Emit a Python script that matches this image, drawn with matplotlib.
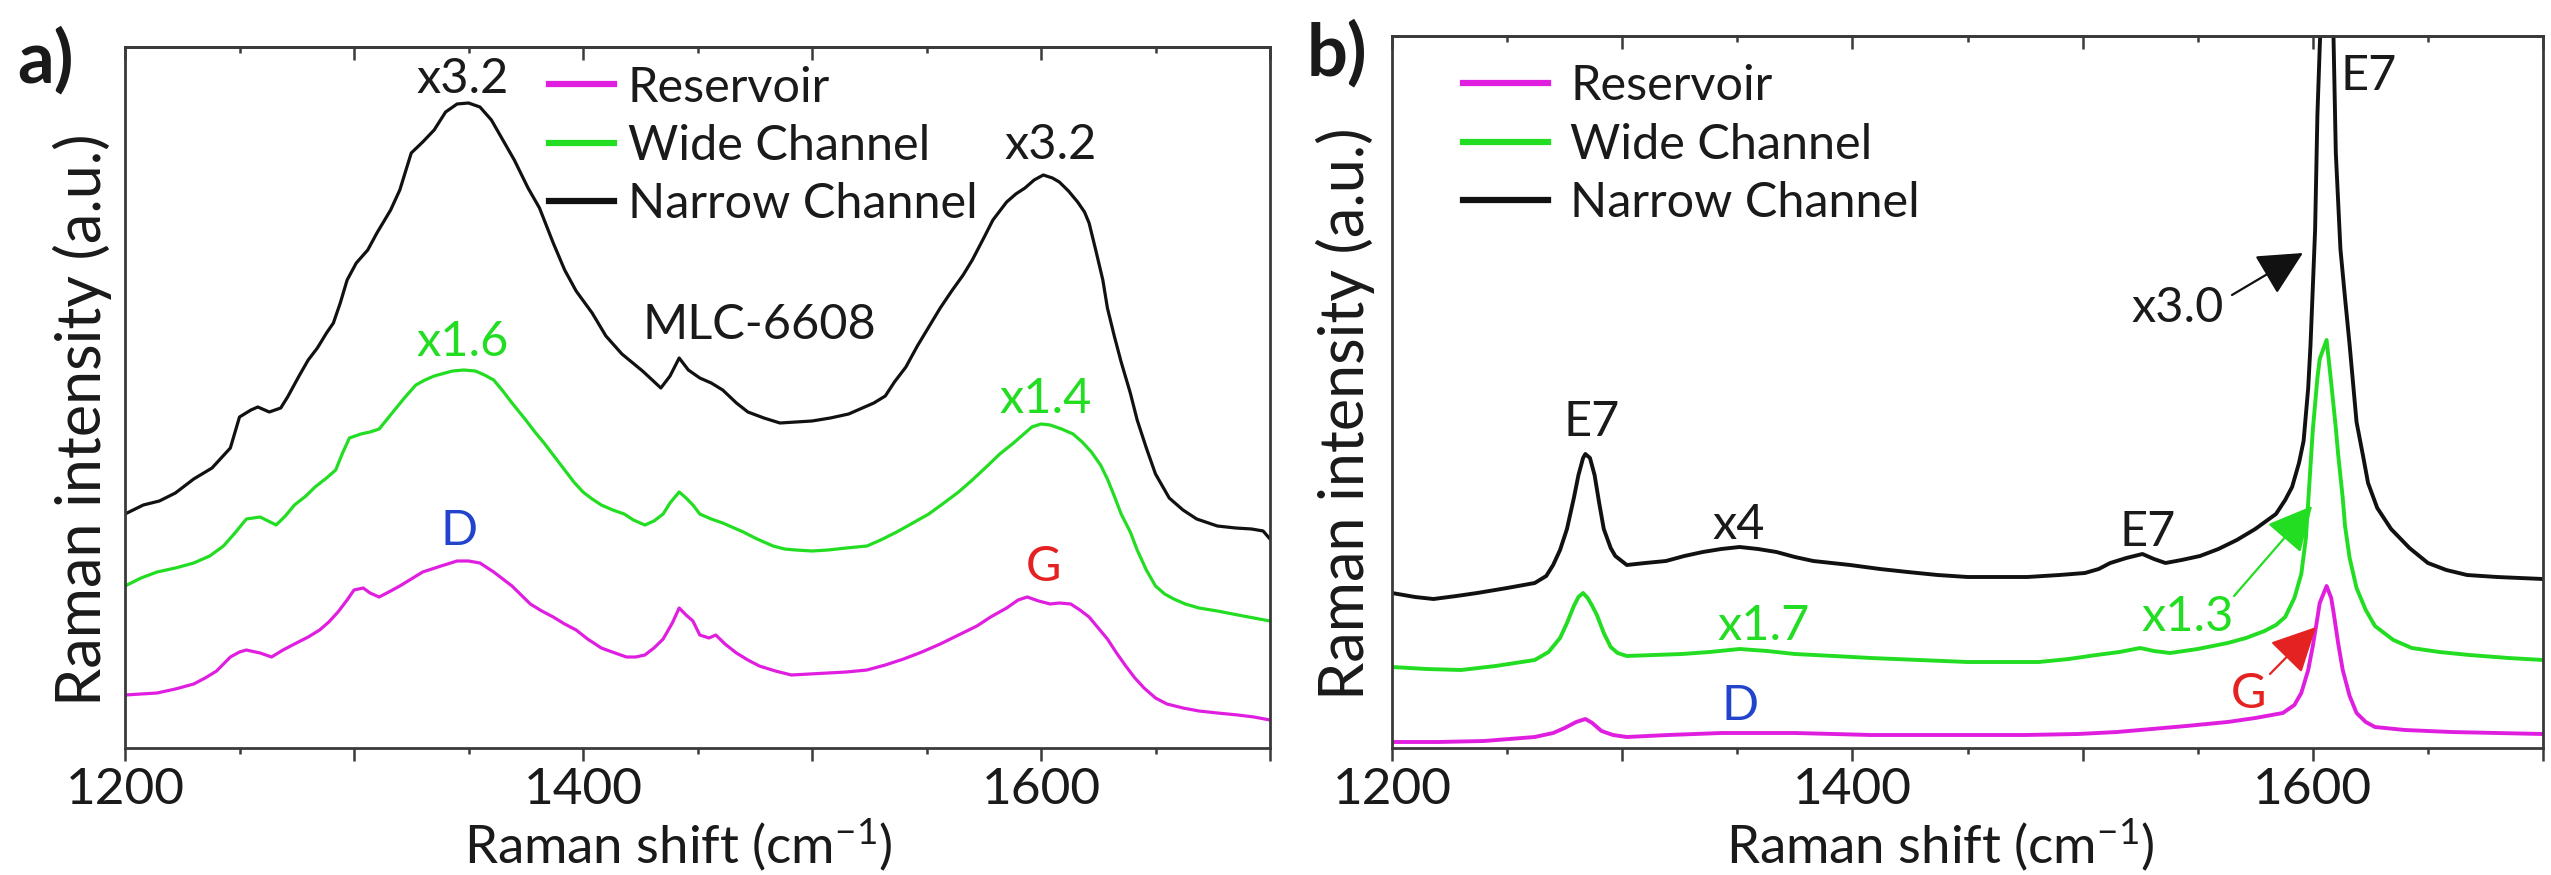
import matplotlib
matplotlib.use("Agg")
import matplotlib.pyplot as plt
from matplotlib.ticker import FixedLocator, FuncFormatter, MultipleLocator

plt.rcParams['font.family'] = ['Lato', 'DejaVu Sans']
plt.rcParams['mathtext.fontset'] = 'custom'
plt.rcParams['mathtext.rm'] = 'Lato'
plt.rcParams['mathtext.default'] = 'regular'

# ---------------- data (Raman shift, intensity in a.u.) ----------------
# Panel a
a_black_x = [1200,1208,1215,1222,1230,1238,1246,1250,1255,1258,1263,1268,1271,1276,1280,1284,1288,1291,1294,1297,
             1301,1306,1310,1316,1320,1325,1330,1335,1340,1345,1350,1355,1360,1365,1370,1376,1381,1387,1392,1397,
             1404,1410,1417,1426,1434,1438,1442,1446,1451,1456,1461,1467,1472,1479,1486,1493,1500,1508,1516,1522,
             1527,1532,1536,1541,1546,1551,1556,1561,1566,1570,1575,1579,1585,1589,1593,1597,1601,1605,1608,1612,
             1616,1619,1621,1624,1627,1629,1632,1635,1639,1642,1646,1650,1656,1662,1668,1677,1685,1692,1697,1700]
a_black_y = [234,243,247,255,269,280,300,331,338,341,336,340,351,372,388,400,415,425,445,468,
             485,498,515,538,558,595,606,618,636,644,645,641,628,608,588,560,540,505,478,457,
             435,412,394,377,360,372,390,378,370,365,358,345,336,330,325,326,327,330,334,340,
             345,352,366,381,402,421,440,457,473,488,510,528,546,554,560,568,573,570,566,557,
             546,536,525,497,468,440,412,386,355,328,300,274,250,238,229,222,220,219,217,209]

a_green_x = [1200,1207,1214,1222,1230,1237,1243,1248,1253,1259,1266,1270,1274,1279,1283,1288,1292,1295,1298,1303,
             1307,1311,1317,1322,1327,1331,1335,1343,1348,1353,1357,1361,1365,1369,1375,1379,1383,1388,1392,1396,
             1400,1404,1408,1413,1418,1422,1427,1431,1435,1438,1442,1445,1448,1451,1456,1461,1466,1470,1476,1483,
             1488,1493,1500,1507,1515,1524,1530,1537,1544,1551,1557,1564,1570,1577,1582,1588,1592,1596,1600,1604,
             1609,1614,1618,1622,1626,1629,1632,1635,1639,1642,1646,1650,1654,1658,1663,1669,1677,1686,1693,1700]
a_green_y = [162,170,176,180,185,192,202,215,229,231,223,232,243,252,261,270,278,295,310,314,
             316,319,336,350,363,368,372,377,378,377,373,368,357,345,328,316,305,290,278,266,
             256,249,243,238,234,228,223,227,234,245,256,250,243,234,229,225,220,216,209,202,
             199,198,197,198,200,202,208,216,225,234,244,256,268,283,294,305,313,321,324,323,
             319,314,306,296,283,269,252,234,216,198,178,162,154,149,144,140,137,133,130,127]

a_mag_x = [1200,1207,1214,1222,1230,1235,1240,1246,1250,1253,1259,1264,1269,1274,1280,1285,1289,1293,1297,1300,
           1304,1307,1311,1316,1320,1325,1330,1338,1345,1350,1355,1361,1365,1369,1373,1377,1382,1387,1392,1397,
           1402,1408,1414,1419,1423,1427,1431,1435,1439,1442,1445,1448,1451,1455,1458,1462,1467,1472,1477,1484,
           1491,1499,1507,1515,1524,1532,1540,1548,1556,1564,1572,1578,1585,1590,1594,1599,1604,1608,1613,1617,
           1621,1625,1629,1633,1637,1641,1645,1650,1655,1662,1669,1677,1686,1693,1700]
a_mag_y = [53,54,55,59,64,70,77,91,96,98,95,91,98,104,111,118,126,136,148,158,
           160,155,151,157,162,169,176,182,187,187,185,176,169,162,153,144,137,131,124,118,
           109,100,95,91,91,93,100,109,125,140,133,127,113,110,113,104,95,88,82,77,
           73,74,75,76,78,83,89,96,104,113,122,131,140,148,151,147,144,145,144,138,
           131,120,109,95,82,70,60,50,44,40,37,35,33,31,28]

# Panel b
b_black_x = [1200,1210,1218,1228,1237,1250,1262,1267,1270,1273,1276,1279,1281,1283,1284,1286,1288,1290,1292,1295,
             1297,1302,1310,1319,1327,1335,1343,1351,1359,1367,1375,1383,1391,1399,1412,1424,1437,1450,1463,1476,
             1490,1501,1507,1512,1519,1526,1531,1536,1543,1551,1559,1567,1575,1581,1584,1588,1591,1594,1596,1598,
             1599,1600,1601,1602,1603,1604,1606,1608,1609,1610,1612,1614,1616,1619,1622,1624,1628,1634,1642,1650,
             1658,1667,1680,1690,1700]
b_black_y = [155,151,149,152,155,160,165,172,183,198,219,250,273,290,294,290,273,245,219,200,
             192,183,185,187,192,196,199,201,199,196,191,187,185,183,179,176,173,171,171,171,
             173,175,179,185,190,194,189,185,188,192,199,208,219,229,234,248,261,285,307,360,
             403,460,518,633,700,760,790,760,710,595,499,450,403,326,290,265,240,219,200,185,
             178,173,171,170,169]

b_green_x = [1200,1215,1230,1245,1262,1268,1273,1276,1279,1281,1283,1285,1287,1289,1292,1295,1298,1302,1314,1326,
             1338,1351,1363,1375,1392,1408,1429,1450,1465,1481,1494,1506,1516,1525,1531,1538,1550,1563,1571,1579,
             1584,1588,1592,1595,1597,1598,1600,1602,1603,1606,1608,1610,1611,1613,1614,1616,1619,1623,1627,1635,
             1643,1655,1668,1685,1700]
b_green_y = [81,79,78,82,88,96,110,125,142,151,155,150,142,133,115,101,95,92,93,94,
             96,99,97,94,92,90,88,86,86,86,89,93,96,100,97,95,99,105,110,117,
             123,131,150,174,210,246,318,370,389,408,365,320,294,250,222,190,160,138,122,108,
             100,96,93,90,88]

b_mag_x = [1200,1220,1240,1262,1270,1275,1280,1284,1287,1291,1296,1302,1320,1343,1360,1375,1392,1408,1430,1450,
           1475,1498,1515,1530,1545,1563,1575,1587,1592,1595,1598,1600,1602,1603,1606,1608,1609,1611,1613,1616,
           1619,1623,1627,1640,1660,1680,1700]
b_mag_y = [6,6,7,11,15,20,26,29,25,17,13,11,13,15,15,15,14,13,13,13,
           13,14,16,19,22,26,30,35,43,55,78,102,130,145,162,150,136,105,78,52,
           35,26,21,18,16,15,14]

series_labels = ['Reservoir', 'Wide Channel', 'Narrow Channel']
major_ticks = [1200, 1300, 1400, 1500, 1600, 1700]
tick_labels = {1200: '1200', 1400: '1400', 1600: '1600'}

MAG = '#e01ee0'
GRN = '#22dd22'
BLK = '#111111'
BLUE = '#2244cc'
RED = '#e52222'
TXT = '#1a1a1a'
SPINE = '#3a3a3a'

FS_TICK = 37
FS_LAB = 38
FS_YLAB = 44
FS_ANN = 35
FS_LEG = 35

fig = plt.figure(figsize=(25.51, 8.75), dpi=100)
W, H = 2551, 875
ax_a = fig.add_axes([125 / W, 127 / H, 1145 / W, 701 / H])
ax_b = fig.add_axes([1392 / W, 127 / H, 1151 / W, 712 / H])


def style_axes(ax, ymax, xlab_x, xlab_y, ylab_x, ylab_y):
    ax.set_xlim(1200, 1700)
    ax.set_ylim(0, ymax)
    ax.set_yticks([])
    for s in ax.spines.values():
        s.set_linewidth(2.0)
        s.set_color(SPINE)
    ax.xaxis.set_major_locator(FixedLocator(major_ticks))
    ax.xaxis.set_minor_locator(MultipleLocator(50))
    ax.xaxis.set_major_formatter(FuncFormatter(lambda v, p: tick_labels.get(int(round(v)), '')))
    ax.tick_params(axis='x', which='major', direction='out', length=9.5, width=1.8,
                   color=SPINE, labelsize=FS_TICK, pad=4, labelcolor=TXT, top=False)
    ax.tick_params(axis='x', which='minor', direction='out', length=4.5, width=1.8,
                   color=SPINE, top=False)
    sec = ax.secondary_xaxis('top')
    sec.xaxis.set_major_locator(FixedLocator(major_ticks))
    sec.xaxis.set_minor_locator(MultipleLocator(50))
    sec.tick_params(axis='x', which='major', direction='in', length=9.5, width=1.8,
                    color=SPINE, labeltop=False)
    sec.tick_params(axis='x', which='minor', direction='in', length=4.5, width=1.8,
                    color=SPINE, labeltop=False)
    sec.spines['top'].set_linewidth(2.0)
    sec.spines['top'].set_color(SPINE)
    ax.set_xlabel(r'Raman shift (cm$^{-1}$)', fontsize=FS_LAB, color=TXT)
    ax.xaxis.set_label_coords(xlab_x, xlab_y)
    ax.set_ylabel('Raman intensity (a.u.)', fontsize=FS_YLAB, color=TXT)
    ax.yaxis.set_label_coords(ylab_x, ylab_y)


# ---------------- panel a ----------------
la = []
la.append(ax_a.plot(a_mag_x, a_mag_y, color=MAG, lw=2.3)[0])
la.append(ax_a.plot(a_green_x, a_green_y, color=GRN, lw=2.3)[0])
la.append(ax_a.plot(a_black_x, a_black_y, color=BLK, lw=2.3)[0])
style_axes(ax_a, 701, 0.483, -0.097, -0.011, 0.468)
leg = ax_a.legend(la, series_labels, loc='upper left', bbox_to_anchor=(0.370, 0.9736),
                  frameon=False, fontsize=FS_LEG, handlelength=1.35, handletextpad=0.28,
                  labelspacing=0.29, borderaxespad=0, borderpad=0)
for ln in leg.get_lines():
    ln.set_linewidth(4.5)
for t in leg.get_texts():
    t.set_color(TXT)

ann_a = [('x3.2', 1347.6, 673, TXT), ('x3.2', 1604, 607, TXT), ('MLC-6608', 1477, 427, TXT),
         ('x1.6', 1347.6, 410, GRN), ('x1.4', 1602, 353, GRN), ('D', 1346, 221, BLUE),
         ('G', 1601, 185, RED)]
for s, x, y, c in ann_a:
    ax_a.text(x, y, s, color=c, fontsize=FS_ANN, ha='center', va='center_baseline')

# ---------------- panel b ----------------
lb = []
lb.append(ax_b.plot(b_mag_x, b_mag_y, color=MAG, lw=2.8)[0])
lb.append(ax_b.plot(b_green_x, b_green_y, color=GRN, lw=2.8)[0])
lb.append(ax_b.plot(b_black_x, b_black_y, color=BLK, lw=2.8)[0])
style_axes(ax_b, 712, 0.476, -0.0955, -0.0148, 0.469)
leg = ax_b.legend(lb, series_labels, loc='upper left', bbox_to_anchor=(0.062, 0.960),
                  frameon=False, fontsize=FS_LEG, handlelength=1.75, handletextpad=0.45,
                  labelspacing=0.29, borderaxespad=0, borderpad=0)
for ln in leg.get_lines():
    ln.set_linewidth(4.5)
for t in leg.get_texts():
    t.set_color(TXT)

ann_b = [('E7', 1286.9, 330, TXT), ('x4', 1350.7, 227, TXT), ('x1.7', 1361.6, 126, GRN),
         ('D', 1351, 46, BLUE), ('E7', 1528.4, 220, TXT), ('E7', 1624.4, 676, TXT),
         ('x3.0', 1541.4, 444, TXT), ('x1.3', 1545.8, 135, GRN), ('G', 1571.9, 58, RED)]
for s, x, y, c in ann_b:
    ax_b.text(x, y, s, color=c, fontsize=FS_ANN, ha='center', va='center_baseline')

arrows_b = [((1564.9, 453), (1595.7, 495), BLK),
            ((1565.8, 152), (1599.7, 242), GRN),
            ((1581.4, 74), (1601.4, 121), RED)]
for start, tip, c in arrows_b:
    ax_b.annotate('', xy=tip, xytext=start,
                  arrowprops=dict(arrowstyle='-|>,head_length=0.7,head_width=0.35',
                                  mutation_scale=40, color=c, lw=1.6,
                                  shrinkA=0, shrinkB=0))

# panel letters
fig.text(17 / W, 1 - 27 / H, 'a)', fontsize=52, fontweight='bold', color=TXT, ha='left', va='top')
fig.text(1307 / W, 1 - 20 / H, 'b)', fontsize=52, fontweight='bold', color=TXT, ha='left', va='top')

fig.savefig('out.png', dpi=100)
